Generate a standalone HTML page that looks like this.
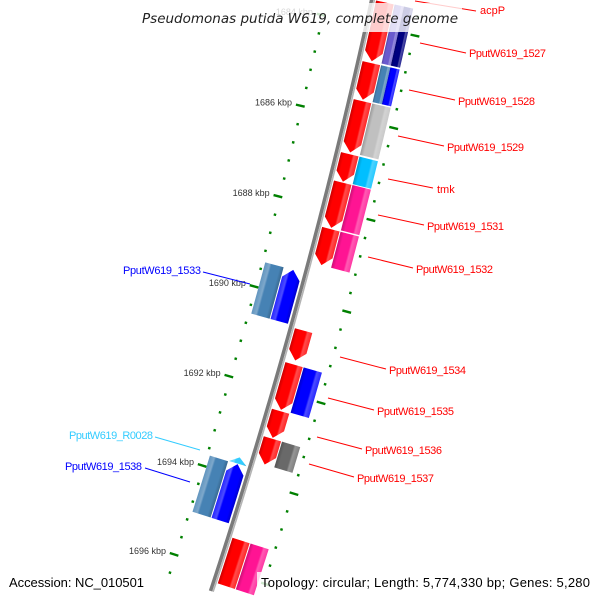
<!DOCTYPE html>
<html><head><meta charset="utf-8"><style>
html,body{margin:0;padding:0;background:#fff;width:600px;height:600px;overflow:hidden}
svg{display:block;overflow:hidden}
.lbl{font-family:"Liberation Sans",sans-serif;font-size:11px}
.tick{font-family:"Liberation Sans",sans-serif;font-size:9px;fill:#333}
</style></head><body>
<svg id="map" width="600" height="600" viewBox="0 0 600 600" xmlns="http://www.w3.org/2000/svg">
<defs id="defs"></defs>
<g id="rings"></g>
<g id="backbone"></g>
<g id="features"></g>
<g id="labels">
  <line x1="415" y1="1" x2="476" y2="11" stroke="#ff0000" stroke-width="1"/>
  <text class="lbl" x="480" y="14" fill="#ff0000">acpP</text>
  <line x1="420" y1="43" x2="466" y2="53" stroke="#ff0000"/>
  <text class="lbl" x="469" y="57" fill="#ff0000" textLength="77">PputW619_1527</text>
  <line x1="409" y1="90" x2="455" y2="100" stroke="#ff0000"/>
  <text class="lbl" x="458" y="105" fill="#ff0000" textLength="77">PputW619_1528</text>
  <line x1="398" y1="136" x2="444" y2="146" stroke="#ff0000"/>
  <text class="lbl" x="447" y="151" fill="#ff0000" textLength="77">PputW619_1529</text>
  <line x1="388" y1="179" x2="433" y2="188" stroke="#ff0000"/>
  <text class="lbl" x="437" y="193" fill="#ff0000">tmk</text>
  <line x1="378" y1="215" x2="424" y2="225" stroke="#ff0000"/>
  <text class="lbl" x="427" y="230" fill="#ff0000" textLength="77">PputW619_1531</text>
  <line x1="368" y1="257" x2="413" y2="268" stroke="#ff0000"/>
  <text class="lbl" x="416" y="273" fill="#ff0000" textLength="77">PputW619_1532</text>
  <line x1="340" y1="357" x2="386" y2="369" stroke="#ff0000"/>
  <text class="lbl" x="389" y="374" fill="#ff0000" textLength="77">PputW619_1534</text>
  <line x1="328" y1="398" x2="374" y2="410" stroke="#ff0000"/>
  <text class="lbl" x="377" y="415" fill="#ff0000" textLength="77">PputW619_1535</text>
  <line x1="317" y1="437" x2="362" y2="449" stroke="#ff0000"/>
  <text class="lbl" x="365" y="454" fill="#ff0000" textLength="77">PputW619_1536</text>
  <line x1="309" y1="464" x2="354" y2="477" stroke="#ff0000"/>
  <text class="lbl" x="357" y="482" fill="#ff0000" textLength="77">PputW619_1537</text>
  <line x1="203" y1="272" x2="250" y2="284" stroke="#0000ff"/>
  <text class="lbl" x="123" y="274" fill="#0000ff" textLength="78">PputW619_1533</text>
  <line x1="155" y1="437" x2="200" y2="450" stroke="#33ccff"/>
  <text class="lbl" x="69" y="439" fill="#33ccff" textLength="84">PputW619_R0028</text>
  <line x1="145" y1="468" x2="190" y2="482" stroke="#0000ff"/>
  <text class="lbl" x="65" y="470" fill="#0000ff" textLength="77">PputW619_1538</text>
</g>
<rect x="138" y="3" width="324" height="29" fill="#fff" opacity="0.8"/>
<text x="300" y="23" text-anchor="middle" font-family="'DejaVu Sans',sans-serif" font-style="italic" font-size="13.5" fill="#222" textLength="316">Pseudomonas putida W619, complete genome</text>
<rect x="5" y="572" width="144" height="24" fill="#fff" opacity="0.8"/>
<text x="9" y="587" font-family="'Liberation Sans',sans-serif" font-size="13" fill="#000" textLength="135">Accession: NC_010501</text>
<rect x="257" y="572" width="338" height="24" fill="#fff" opacity="0.8"/>
<text x="261" y="587" font-family="'Liberation Sans',sans-serif" font-size="13" fill="#000" textLength="329">Topology: circular; Length: 5,774,330 bp; Genes: 5,280</text>
</svg>
<script>
// ---- data ----
const geneNames = ["acpP","PputW619_1527","PputW619_1528","PputW619_1529","tmk","PputW619_1531","PputW619_1532","PputW619_1533","PputW619_1534","PputW619_1535","PputW619_1536","PputW619_1537","PputW619_R0028","PputW619_1538","PputW619_1539"];
const geneStart = [1682.9,1683.45,1684.77,1685.6,1686.76,1687.38,1688.4,1689.44,1690.63,1691.38,1692.41,1693.02,1693.6,1693.75,1695.28];
const geneEnd   = [1683.35,1684.73,1685.57,1686.72,1687.36,1688.37,1689.19,1690.58,1691.29,1692.38,1693.0,1693.59,1693.74,1695.01,1697.3];
const geneStrand = [1,1,1,1,1,1,1,-1,1,1,1,1,-1,-1,1];
const geneType = ["CDS","CDS","CDS","CDS","CDS","CDS","CDS","CDS","CDS","CDS","CDS","CDS","tRNA","CDS","CDS"];
const cogInner = ["#000080","#6a5acd","#4682b4","#c0c0c0","#00bfff","#ff1493","#ff1493","#4682b4","","#0000ff","","#696969","","#4682b4","#ff1493"];
const cogOuter = ["#000080","#000080","#0000ff","#c0c0c0","#00bfff","#ff1493","#ff1493","#4682b4","","#0000ff","","#696969","","#4682b4","#ff1493"];
const tickKbp = [1684,1686,1688,1690,1692,1694,1696];
const tickLabels = ["1684 kbp","1686 kbp","1688 kbp","1690 kbp","1692 kbp","1694 kbp","1696 kbp"];

// ---- geometry ----
const CX=-5398, CY=-1255, R=5905, A0=13.43, K0=1686, DPK=0.456;
const VIEW_MIN=1683.45, VIEW_MAX=1696.3;
function ang(k){return (A0+(k-K0)*DPK)*Math.PI/180;}
function pt(k,r){const a=ang(k);return [CX+r*Math.cos(a),CY+r*Math.sin(a)];}
const NS="http://www.w3.org/2000/svg";
function mk(tag,attrs,parent){const e=document.createElementNS(NS,tag);for(const k in attrs)e.setAttribute(k,attrs[k]);parent.appendChild(e);return e;}
function arcPts(k1,k2,r){const n=Math.max(2,Math.ceil(Math.abs(k2-k1)/0.05));const p=[];for(let i=0;i<=n;i++)p.push(pt(k1+(k2-k1)*i/n,r));return p;}
function shape(k1,k2,r1,r2,dir){
  const len=k2-k1, hl=Math.min(0.2,len), rm=(r1+r2)/2;let pts=[];
  if(dir===1){pts=arcPts(k1,k2-hl,r2).concat([pt(k2,rm)],arcPts(k2-hl,k1,r1));}
  else if(dir===-1){pts=[pt(k1,rm)].concat(arcPts(k1+hl,k2,r2),arcPts(k2,k1+hl,r1));}
  else{pts=arcPts(k1,k2,r2).concat(arcPts(k2,k1,r1));}
  return pts.map(p=>p[0].toFixed(2)+","+p[1].toFixed(2)).join(" ");
}
function shade(hex,f){const n=parseInt(hex.slice(1),16);let r=n>>16,g=(n>>8)&255,b=n&255;
  if(f<0){r*=1+f;g*=1+f;b*=1+f;}else{r+=(255-r)*f;g+=(255-g)*f;b+=(255-b)*f;}
  return "rgb("+Math.round(r)+","+Math.round(g)+","+Math.round(b)+")";}
const defs=document.getElementById('defs');let gid=0;
function grad(k,r1,r2,color){
  const id="g"+(gid++);const a=pt(k,r1),b=pt(k,r2);
  const g=mk('linearGradient',{id:id,gradientUnits:"userSpaceOnUse",x1:a[0],y1:a[1],x2:b[0],y2:b[1]},defs);
  mk('stop',{offset:"0",'stop-color':shade(color,-0.2)},g);
  mk('stop',{offset:"0.2",'stop-color':color},g);
  mk('stop',{offset:"0.65",'stop-color':color},g);
  mk('stop',{offset:"0.75",'stop-color':shade(color,0.3)},g);
  mk('stop',{offset:"1",'stop-color':shade(color,0.15)},g);
  return "url(#"+id+")";
}

// ---- tick rings ----
const rings=document.getElementById('rings');
for(let i=0;i<=40;i++){
  const k=1682+i*0.4;const major=Math.abs(k/2-Math.round(k/2))<0.01;
  [-1,1].forEach(side=>{
    if(side<0 && (k<1683.6||k>1696.45)) return;
    if(side>0 && (k<1683.6||k>1696.05)) return;
    const r1=side<0?(major?R-51:R-46):(major?R+45:R+47);
    const r2=side<0?(major?R-42:R-43.5):(major?R+54:R+49.5);
    const a=pt(k,r1),b=pt(k,r2);
    const t=mk('line',{x1:a[0],y1:a[1],x2:b[0],y2:b[1],stroke:"#008000",'stroke-width':2.4},rings);
    
    
  });
}
tickKbp.forEach((k,i)=>{
  const p=pt(k,R-55);
  const t=mk('text',{x:p[0],y:p[1]+2,'text-anchor':'end',class:'tick'},rings);
  t.textContent=tickLabels[i];
  
  
});

// ---- backbone ----
const bb=document.getElementById('backbone');
function arcPath(k1,k2,r){return "M"+arcPts(k1,k2,r).map(p=>p[0].toFixed(2)+","+p[1].toFixed(2)).join(" L");}
const b1=mk('path',{d:arcPath(1683.3,1696.5,R-0.5),stroke:"#7a7a7a",'stroke-width':3.5,fill:"none"},bb);


const b2=mk('path',{d:arcPath(1683.3,1696.5,R+2.2),stroke:"#b4b4b4",'stroke-width':1.6,fill:"none"},bb);



// ---- features ----
const fg=document.getElementById('features');
geneNames.forEach((nm,i)=>{
  const s=geneStrand[i];
  let k1=geneStart[i],k2=geneEnd[i];
  let dir=s;
  if(k2<VIEW_MIN||k1>VIEW_MAX) return;
  if(k1<VIEW_MIN){k1=VIEW_MIN; if(dir===-1) dir=0;}
  if(k2>VIEW_MAX){k2=VIEW_MAX; if(dir===1) dir=0;}
  const km=(k1+k2)/2;
  const r1=s>0?R+4:R-22, r2=s>0?R+22:R-4;
  const col=geneType[i]==="tRNA"?"#33ccff":(s>0?"#ff0000":"#0000ff");
  const p=mk('polygon',{points:shape(k1,k2,r1,r2,dir),fill:grad(km,s>0?r1:r2,s>0?r2:r1,col)},fg);
  
  
  if(cogInner[i]){
    const q1=s>0?R+23:R-42, q2=s>0?R+42:R-23;
    if(cogInner[i]===cogOuter[i]){
      const c=mk('polygon',{points:shape(k1,k2,q1,q2,0),fill:grad(km,s>0?q1:q2,s>0?q2:q1,cogInner[i])},fg);
      
      
    }else{
      const mid=(q1+q2)/2;
      const c1=mk('polygon',{points:shape(k1,k2,q1,mid,0),fill:grad(km,q1,mid,cogInner[i])},fg);
      
      
      const c2=mk('polygon',{points:shape(k1,k2,mid,q2,0),fill:grad(km,mid,q2,cogOuter[i])},fg);
      
      
    }
  }
});
</script>
</body></html>
